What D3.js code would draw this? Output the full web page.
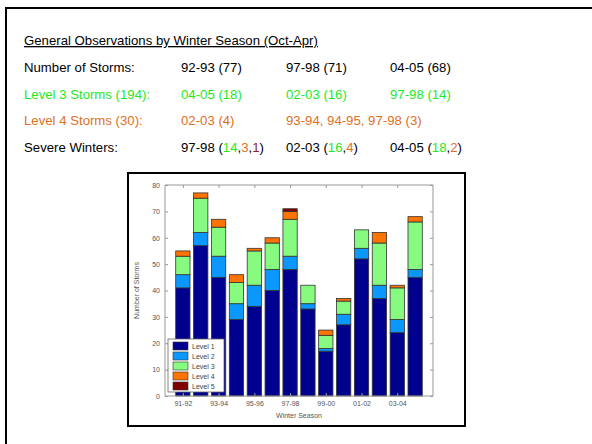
<!DOCTYPE html>
<html lang="en">
<head>
    <meta charset="UTF-8">
    <title>Winter Storms by Season</title>
    <script src="https://d3js.org/d3.v7.min.js"></script>
    <style>
        body { margin: 0; background: #fff; }
        svg { display: block; font-family: "Liberation Sans", Arial, sans-serif; }
        .row { font-size: 13.2px; }
        .tick text { fill: #555; font-size: 7px; }
        .tick line, .domain { stroke: #999; }
    </style>
</head>
<body>
    <svg width="592" height="444"></svg>
    <script>
        // seasons and storm counts per level
        const seasons = ["91-92", "92-93", "93-94", "94-95", "95-96", "96-97", "97-98",
                         "98-99", "99-00", "00-01", "01-02", "02-03", "03-04", "04-05"];
        const level1 = [41, 57, 45, 29, 34, 40, 48, 33, 17, 27, 52, 37, 24, 45];
        const level2 = [5, 5, 8, 6, 8, 8, 5, 2, 1, 4, 4, 5, 5, 3];
        const level3 = [7, 13, 11, 8, 13, 10, 14, 7, 5, 5, 7, 16, 12, 18];
        const level4 = [2, 2, 3, 3, 1, 2, 3, 0, 2, 1, 0, 4, 1, 2];
        const level5 = [0, 0, 0, 0, 0, 0, 1, 0, 0, 0, 0, 0, 0, 0];
        const levelNames = ["Level 1", "Level 2", "Level 3", "Level 4", "Level 5"];
        const levelColors = ["#00008f", "#0a98ff", "#86fb7f", "#ff7300", "#800000"];
        const xTickLabels = ["91-92", "93-94", "95-96", "97-98", "99-00", "01-02", "03-04"];
        const yTicks = [0, 10, 20, 30, 40, 50, 60, 70, 80];

        const GREEN = "#1ee81e", ORANGE = "#e0701e", DARKRED = "#8b1c1c";

        const svg = d3.select("svg");

        // slide frame
        svg.append("rect")
            .attr("x", 6).attr("y", 8)
            .attr("width", 600).attr("height", 450)
            .attr("fill", "none").attr("stroke", "#000").attr("stroke-width", 2);

        // text block
        const colX = [24, 181, 286, 390];
        const rows = [
            [{ t: "Number of Storms:" }, [{ t: "92-93 (77)" }], [{ t: "97-98 (71)" }], [{ t: "04-05 (68)" }]],
            [{ t: "Level 3 Storms (194):", c: GREEN }, [{ t: "04-05 (18)", c: GREEN }], [{ t: "02-03 (16)", c: GREEN }], [{ t: "97-98 (14)", c: GREEN }]],
            [{ t: "Level 4 Storms (30):", c: ORANGE }, [{ t: "02-03 (4)", c: ORANGE }], [{ t: "93-94, 94-95, 97-98 (3)", c: ORANGE }], null],
            [{ t: "Severe Winters:" },
             [{ t: "97-98 (" }, { t: "14", c: GREEN }, { t: "," }, { t: "3", c: ORANGE }, { t: "," }, { t: "1", c: DARKRED }, { t: ")" }],
             [{ t: "02-03 (" }, { t: "16", c: GREEN }, { t: "," }, { t: "4", c: ORANGE }, { t: ")" }],
             [{ t: "04-05 (" }, { t: "18", c: GREEN }, { t: "," }, { t: "2", c: ORANGE }, { t: ")" }]]
        ];

        svg.append("text")
            .attr("class", "row")
            .attr("x", colX[0]).attr("y", 45)
            .attr("text-decoration", "underline")
            .text("General Observations by Winter Season (Oct-Apr)");

        rows.forEach((r, i) => {
            const y = 72 + i * 26.5;
            svg.append("text").attr("class", "row")
                .attr("x", colX[0]).attr("y", y)
                .attr("fill", r[0].c || "#000")
                .text(r[0].t);
            [1, 2, 3].forEach(j => {
                if (!r[j]) return;
                const t = svg.append("text").attr("class", "row")
                    .attr("x", colX[j]).attr("y", y);
                r[j].forEach(p => t.append("tspan").attr("fill", p.c || "#000").text(p.t));
            });
        });

        // embedded chart picture frame
        svg.append("rect")
            .attr("x", 128).attr("y", 173)
            .attr("width", 337).attr("height", 253)
            .attr("fill", "#fff").attr("stroke", "#000").attr("stroke-width", 2);

        const plot = { left: 165, right: 433, top: 185, bottom: 396 };

        const x = d3.scaleLinear().domain([0, 15]).range([plot.left, plot.right]);
        const y = d3.scaleLinear().domain([0, 80]).range([plot.bottom, plot.top]);

        const table = seasons.map((s, i) => ({
            season: s, idx: i + 1,
            l0: level1[i], l1: level2[i], l2: level3[i], l3: level4[i], l4: level5[i]
        }));
        const stack = d3.stack().keys(["l0", "l1", "l2", "l3", "l4"])(table);

        const bw = (x(1) - x(0)) * 0.8;

        const g = svg.append("g");
        g.selectAll("g.layer")
            .data(stack)
            .join("g")
            .attr("class", "layer")
            .attr("fill", (d, i) => levelColors[i])
            .selectAll("rect")
            .data(d => d.filter(v => v[1] > v[0]))
            .join("rect")
            .attr("x", d => x(d.data.idx) - bw / 2)
            .attr("width", bw)
            .attr("y", d => y(d[1]))
            .attr("height", d => y(d[0]) - y(d[1]))
            .attr("stroke", "#333")
            .attr("stroke-width", 0.8);

        // axes (matlab style: inward ticks, box)
        const xTickVals = xTickLabels.map(l => seasons.indexOf(l) + 1);
        const xAxis = d3.axisBottom(x).tickValues(xTickVals)
            .tickFormat((d, i) => xTickLabels[i]).tickSize(-3).tickPadding(5);
        const xTop = d3.axisTop(x).tickValues(xTickVals).tickFormat("").tickSize(-3);
        const yAxis = d3.axisLeft(y).tickValues(yTicks).tickSize(-3).tickPadding(5);
        const yRight = d3.axisRight(y).tickValues(yTicks).tickFormat("").tickSize(-3);

        svg.append("g").attr("transform", `translate(0,${plot.bottom})`).call(xAxis)
            .call(a => a.select(".domain").attr("d", `M${plot.left},0H${plot.right}`));
        svg.append("g").attr("transform", `translate(0,${plot.top})`).call(xTop)
            .call(a => a.select(".domain").attr("d", `M${plot.left},0H${plot.right}`));
        svg.append("g").attr("transform", `translate(${plot.left},0)`).call(yAxis)
            .call(a => a.select(".domain").attr("d", `M0,${plot.bottom}V${plot.top}`));
        svg.append("g").attr("transform", `translate(${plot.right},0)`).call(yRight)
            .call(a => a.select(".domain").attr("d", `M0,${plot.bottom}V${plot.top}`));

        svg.append("text")
            .attr("transform", `translate(139,${(plot.top + plot.bottom) / 2}) rotate(-90)`)
            .attr("text-anchor", "middle")
            .attr("fill", "#555").attr("font-size", 7)
            .text("Number of Storms");

        svg.append("text")
            .attr("x", (plot.left + plot.right) / 2).attr("y", 418)
            .attr("text-anchor", "middle")
            .attr("fill", "#555").attr("font-size", 7)
            .text("Winter Season");

        // legend
        const lg = svg.append("g").attr("transform", "translate(168,339)");
        lg.append("rect").attr("width", 56).attr("height", 53)
            .attr("fill", "#fff").attr("stroke", "#666").attr("stroke-width", 0.8);
        levelNames.forEach((n, i) => {
            lg.append("rect")
                .attr("x", 5).attr("y", 3 + i * 10)
                .attr("width", 15).attr("height", 8)
                .attr("fill", levelColors[i]).attr("stroke", "#333").attr("stroke-width", 0.6);
            lg.append("text")
                .attr("x", 24).attr("y", 10 + i * 10)
                .attr("font-size", 7).attr("fill", "#444")
                .text(n);
        });
    </script>
</body>
</html>
